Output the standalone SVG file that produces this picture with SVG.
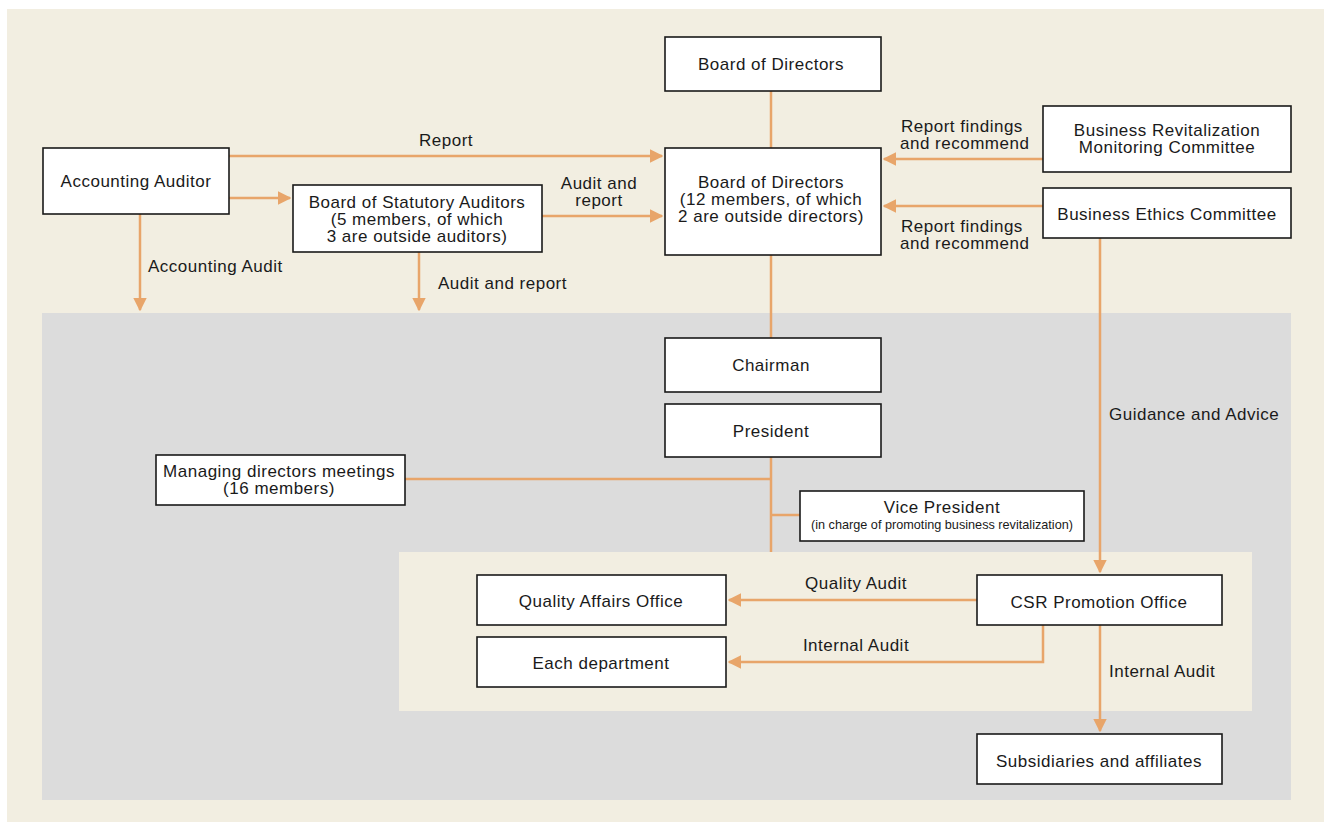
<svg xmlns="http://www.w3.org/2000/svg" width="1324" height="822" viewBox="0 0 1324 822">
<style>
.box{fill:#fff;stroke:#1a1a1a;stroke-width:1.6}
.t{font-family:"Liberation Sans",Arial,sans-serif;font-size:17px;letter-spacing:0.5px;fill:#1a1a1a;text-anchor:middle}
.l{font-family:"Liberation Sans",Arial,sans-serif;font-size:17px;letter-spacing:0.5px;fill:#1a1a1a}
.c{fill:none;stroke:#E8A56A;stroke-width:2.5}
.a{fill:none;stroke:#E8A56A;stroke-width:2.5;marker-end:url(#ah)}
</style>
<defs>
<marker id="ah" viewBox="0 0 10 10" refX="9" refY="5" markerWidth="5.5" markerHeight="5.5" markerUnits="strokeWidth" orient="auto">
<path d="M0,0 L10,5 L0,10 Z" fill="#E8A56A"/>
</marker>
</defs>
<rect x="0" y="0" width="1324" height="822" fill="#fff"/>
<rect x="7" y="9" width="1317" height="813" fill="#F2EEE1"/>
<rect x="42" y="313" width="1249" height="487" fill="#DCDCDC"/>
<rect x="399" y="552" width="853" height="159" fill="#F2EEE1"/>

<g id="connectors">
<line class="c" x1="771" y1="91" x2="771" y2="148"/>
<line class="c" x1="771" y1="255" x2="771" y2="338"/>
<line class="c" x1="771" y1="457" x2="771" y2="552"/>
<line class="c" x1="405" y1="479" x2="771" y2="479"/>
<line class="c" x1="771" y1="515" x2="800" y2="515"/>
<line class="a" x1="229" y1="156" x2="662" y2="156"/>
<line class="a" x1="229" y1="198" x2="290" y2="198"/>
<line class="a" x1="542" y1="216" x2="662" y2="216"/>
<line class="a" x1="140" y1="214" x2="140" y2="310"/>
<line class="a" x1="419" y1="252" x2="419" y2="310"/>
<line class="a" x1="1043" y1="159" x2="884" y2="159"/>
<line class="a" x1="1043" y1="206" x2="884" y2="206"/>
<line class="a" x1="1100" y1="238" x2="1100" y2="572"/>
<line class="a" x1="977" y1="600" x2="729" y2="600"/>
<polyline class="a" points="1043,625 1043,662 729,662"/>
<line class="a" x1="1100" y1="625" x2="1100" y2="731"/>
<text class="t" x="446" y="146">Report</text>
<text class="t" x="599" y="189">Audit and</text>
<text class="t" x="599" y="206">report</text>
<text class="l" x="148" y="272">Accounting Audit</text>
<text class="l" x="438" y="289">Audit and report</text>
<text class="l" x="901" y="132">Report findings</text>
<text class="l" x="900" y="149">and recommend</text>
<text class="l" x="901" y="232">Report findings</text>
<text class="l" x="900" y="249">and recommend</text>
<text class="l" x="1109" y="420">Guidance and Advice</text>
<text class="t" x="856" y="589">Quality Audit</text>
<text class="t" x="856" y="651">Internal Audit</text>
<text class="l" x="1109" y="677">Internal Audit</text>
</g>

<g id="board-top"><rect class="box" x="665" y="37" width="216" height="54"/><text class="t" x="771" y="70">Board of Directors</text></g>
<g id="board-main"><rect class="box" x="665" y="148" width="216" height="107"/><text class="t" x="771" y="188">Board of Directors</text><text class="t" x="771" y="205">(12 members, of which</text><text class="t" x="771" y="222">2 are outside directors)</text></g>
<g id="accounting-auditor"><rect class="box" x="43" y="148" width="186" height="66"/><text class="t" x="136" y="187">Accounting Auditor</text></g>
<g id="statutory-auditors"><rect class="box" x="293" y="185" width="249" height="67"/><text class="t" x="417" y="208">Board of Statutory Auditors</text><text class="t" x="417" y="225">(5 members, of which</text><text class="t" x="417" y="242">3 are outside auditors)</text></g>
<g id="brmc"><rect class="box" x="1043" y="106" width="248" height="66"/><text class="t" x="1167" y="136">Business Revitalization</text><text class="t" x="1167" y="153">Monitoring Committee</text></g>
<g id="bec"><rect class="box" x="1043" y="188" width="248" height="50"/><text class="t" x="1167" y="220">Business Ethics Committee</text></g>
<g id="chairman"><rect class="box" x="665" y="338" width="216" height="54"/><text class="t" x="771" y="371">Chairman</text></g>
<g id="president"><rect class="box" x="665" y="404" width="216" height="53"/><text class="t" x="771" y="437">President</text></g>
<g id="managing"><rect class="box" x="156" y="455" width="249" height="50"/><text class="t" x="279" y="477">Managing directors meetings</text><text class="t" x="279" y="494">(16 members)</text></g>
<g id="vice-president"><rect class="box" x="800" y="491" width="284" height="50"/><text class="t" x="942" y="513">Vice President</text><text class="t" x="942" y="529" style="font-size:13px;letter-spacing:0" textLength="262" lengthAdjust="spacingAndGlyphs">(in charge of promoting business revitalization)</text></g>
<g id="quality-affairs"><rect class="box" x="477" y="575" width="249" height="50"/><text class="t" x="601" y="607">Quality Affairs Office</text></g>
<g id="csr"><rect class="box" x="977" y="575" width="245" height="50"/><text class="t" x="1099" y="608">CSR Promotion Office</text></g>
<g id="each-dept"><rect class="box" x="477" y="637" width="249" height="50"/><text class="t" x="601" y="669">Each department</text></g>
<g id="subsidiaries"><rect class="box" x="977" y="734" width="245" height="50"/><text class="t" x="1099" y="767">Subsidiaries and affiliates</text></g>
</svg>
